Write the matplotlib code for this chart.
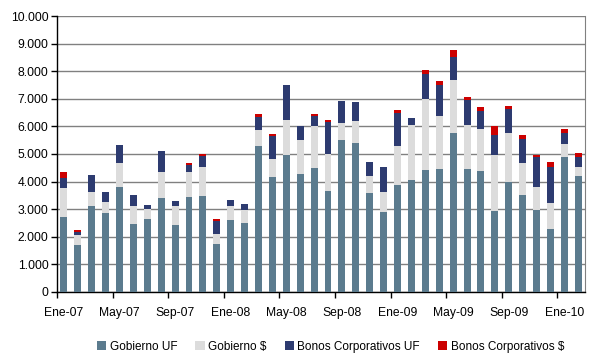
import matplotlib
matplotlib.use("Agg")
import matplotlib.pyplot as plt
import numpy as np

months = ["Ene", "Feb", "Mar", "Abr", "May", "Jun", "Jul", "Ago", "Sep", "Oct", "Nov", "Dic"]
periods = [f"{months[i % 12]}-{7 + i // 12:02d}" for i in range(38)]

# monthly amounts per instrument (stacked)
gob_uf = [2720, 1700, 3115, 2860, 3805, 2465, 2645, 3405, 2430, 3440,
          3480, 1740, 2610, 2500, 5290, 4165, 4965, 4275, 4495, 3660,
          5505, 5400, 3585, 2900, 3875, 4060, 4420, 4455, 5760, 4455,
          4385, 2935, 3985, 3515, 2970, 2285, 4890, 4205]
gob_clp = [1050, 365, 505, 410, 870, 650, 360, 945, 685, 905,
           1050, 360, 505, 470, 580, 655, 1265, 1230, 1520, 1340,
           615, 795, 615, 725, 1415, 1990, 2575, 1920, 1920, 1595,
           1520, 2030, 1775, 1160, 835, 940, 470, 325]
corp_uf = [360, 120, 615, 350, 650, 400, 145, 760, 180, 255,
           410, 470, 215, 215, 470, 835, 1270, 505, 365, 1160,
           795, 690, 505, 905, 1195, 255, 905, 1125, 835, 905,
           650, 725, 870, 870, 1085, 1305, 400, 360]
corp_clp = [220, 70, 0, 0, 0, 0, 0, 0, 0, 75,
            70, 75, 0, 0, 110, 75, 0, 0, 70, 75,
            0, 0, 0, 0, 110, 0, 145, 145, 255, 110,
            145, 325, 110, 145, 75, 180, 145, 145]

series = [
    ("Gobierno UF", gob_uf, "#5b7b8e"),
    ("Gobierno $", gob_clp, "#dcdcdc"),
    ("Bonos Corporativos UF", corp_uf, "#2d3b70"),
    ("Bonos Corporativos $", corp_clp, "#cc0000"),
]

plt.rcParams["font.family"] = ["Liberation Sans", "DejaVu Sans"]

fig = plt.figure(figsize=(5.99, 3.56), dpi=100)
ax = fig.add_axes([0.095, 0.18, 0.882, 0.775])

x = np.arange(len(periods))
bottom = np.zeros(len(periods))
handles = []
for name, vals, color in series:
    v = np.array(vals, dtype=float)
    h = ax.bar(x, v, bottom=bottom, width=0.5, color=color, label=name, zorder=3)
    handles.append(h)
    bottom += v

ax.set_xlim(-0.5, len(periods) - 0.5)
ax.set_ylim(0, 10000)
yt = np.arange(0, 10001, 1000)
ax.set_yticks(yt)
ax.set_yticklabels([f"{int(v):,}".replace(",", ".") for v in yt], fontsize=8.7)
ax.yaxis.grid(True, color="#808080", linewidth=1, zorder=0)

# labels on every fourth month, tick marks on category boundaries
ax.set_xticks(x[::4])
ax.set_xticklabels(periods[::4], fontsize=8.7)
ax.tick_params(axis="x", length=0, pad=11)
ax.set_xticks(np.arange(-0.5, len(periods), 4), minor=True)
ax.tick_params(axis="x", which="minor", length=4, width=1, direction="out", color="black")
ax.tick_params(axis="y", length=4, width=1, direction="out", pad=2)

for s in ["left", "bottom"]:
    ax.spines[s].set_color("black")
    ax.spines[s].set_linewidth(1)
ax.spines["right"].set_color("#808080")
ax.spines["top"].set_visible(False)

fig.legend(handles=handles, loc="center", bbox_to_anchor=(0.552, 0.026),
           ncol=4, frameon=False, fontsize=8.5, handlelength=0.8, handleheight=0.8,
           handletextpad=0.3, columnspacing=1.5, borderpad=0)

fig.savefig("out.png", dpi=100)
